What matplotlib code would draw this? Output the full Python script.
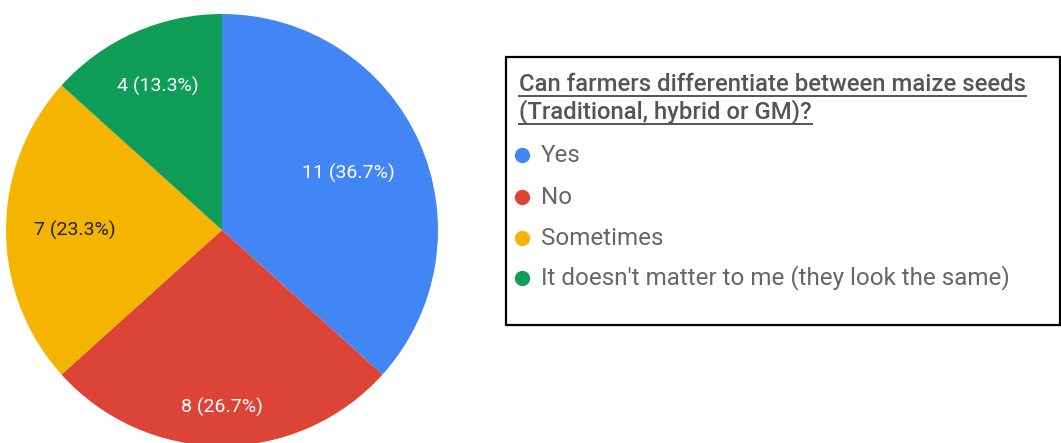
import matplotlib.pyplot as plt
import numpy as np
from matplotlib.patches import Rectangle

# data
answers = ["Yes", "No", "Sometimes", "It doesn't matter to me (they look the same)"]
counts = [11, 8, 7, 4]
colors = ["#4285F4", "#DB4437", "#F4B400", "#0F9D58"]
label_colors = ["white", "white", "#222222", "white"]
label_dist = [0.64, 0.82, 0.68, 0.73]
title_lines = ["Can farmers differentiate between maize seeds", "(Traditional, hybrid or GM)?"]

W, H = 1061, 443
fig = plt.figure(figsize=(W / 100, H / 100), dpi=100)
ax = fig.add_axes([0, 0, 1, 1])

total = sum(counts)
wedges, _ = ax.pie(counts, colors=colors, startangle=90, counterclock=False,
                   center=(222, 213), radius=216,
                   wedgeprops=dict(linewidth=0))

for w, c, lc, d in zip(wedges, counts, label_colors, label_dist):
    ang = np.deg2rad((w.theta1 + w.theta2) / 2)
    x = 222 + d * 216 * np.cos(ang)
    y = 213 + d * 216 * np.sin(ang)
    ax.text(x, y, f"{c} ({c / total * 100:.1f}%)", ha="center", va="center",
            color=lc, fontsize=14, family="Roboto")

ax.set_xlim(0, W)
ax.set_ylim(0, H)
ax.set_aspect("auto")
ax.axis("off")

# legend box
ax.add_patch(Rectangle((506, H - 325), 554, 268, fill=False, edgecolor="black",
                       linewidth=1.6))

fig.canvas.draw()
renderer = fig.canvas.get_renderer()
title_y = [84, 112]
for line, ty in zip(title_lines, title_y):
    t = ax.text(519, H - ty, line, ha="left", va="center", fontsize=17.2,
                family="Roboto", weight="medium", color="#555555")
    bb = t.get_window_extent(renderer)
    uy = H - ty - 12
    ax.plot([bb.x0, bb.x1], [uy, uy], color="#555555", linewidth=1.4)

item_y = [155, 197, 238, 278]
for name, col, iy in zip(answers, colors, item_y):
    ax.plot(522, H - iy, marker="o", markersize=11, color=col, markeredgewidth=0)
    ax.text(541, H - iy, name, ha="left", va="center", fontsize=17.4,
            family="Roboto", color="#666666")

fig.savefig("out.png", dpi=100)
